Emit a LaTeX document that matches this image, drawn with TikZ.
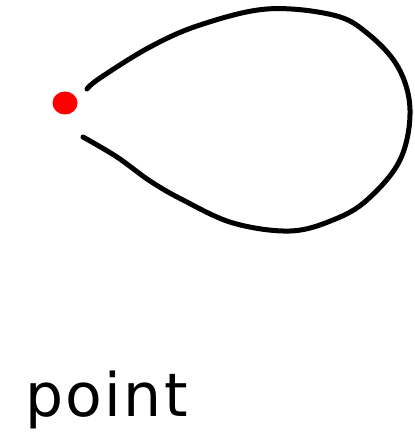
\documentclass[tikz,border=0pt]{standalone}
\usepackage{fontspec}
\newfontfamily\handfont[LetterSpace=4]{DejaVu Sans}
\begin{document}
\begin{tikzpicture}[x=1pt,y=-1pt,
  loopline/.style={line width=5pt,line cap=round,line join=round},
  dotstyle/.style={fill=red,draw=none}]
\useasboundingbox (0,0) rectangle (414,435);
\fill[dotstyle] (65,103) ellipse [x radius=12.5, y radius=11.5];
\draw[loopline] plot[smooth,tension=0.6] coordinates {
 (87,89) (100,78) (150,47) (200,25) (267,9) (333,15) (367,33) (398,67)
 (410,110) (400,160) (367,200) (333,220) (290,231) (233,223) (183,200)
 (150,181) (117,157) (83,137)};
\node[anchor=base west,inner sep=0pt,font=\handfont\fontsize{60}{62}\selectfont] (label) at (25,416) {point};
\end{tikzpicture}
\end{document}
